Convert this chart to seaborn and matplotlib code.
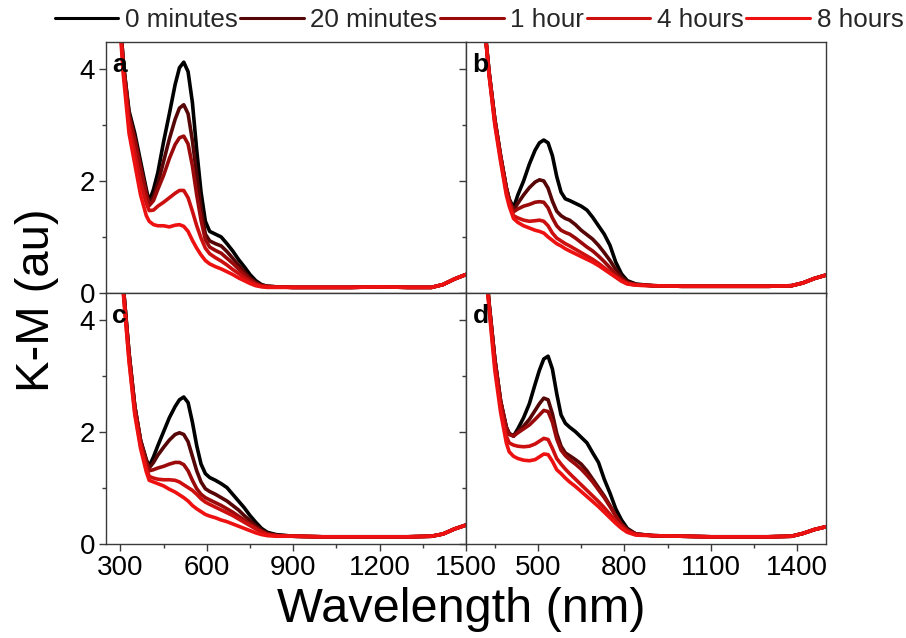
import matplotlib
matplotlib.use("Agg")
import matplotlib.pyplot as plt
import pandas as pd
import seaborn as sns
from matplotlib.lines import Line2D
from matplotlib.ticker import FixedLocator, MultipleLocator

sns.set_theme(style="white")
plt.rcParams['font.family'] = ['Liberation Sans', 'DejaVu Sans']

# ---------------- data ----------------
wavelength = [250, 290, 310, 330, 350, 370, 390, 400, 415, 430, 450, 470, 490, 505, 520,
              535, 550, 565, 580, 595, 610, 630, 650, 670, 690, 710, 730, 750, 770, 790,
              810, 840, 900, 1000, 1100, 1200, 1300, 1380, 1420, 1460, 1500]

series_labels = ["0 minutes", "20 minutes", "1 hour", "4 hours", "8 hours"]
series_colors = ["#000000", "#560606", "#9b0a0a", "#cc1010", "#ee1111"]
panel_letters = ["a", "b", "c", "d"]

# panel a
a_0min = [8, 5.6, 4.1, 3.25, 2.85, 2.35, 1.85, 1.63, 1.85, 2.15, 2.7, 3.2, 3.72, 4.02, 4.12,
          3.95, 3.4, 2.55, 1.8, 1.28, 1.1, 1.05, 1.0, 0.88, 0.75, 0.6, 0.47, 0.33, 0.22, 0.15,
          0.12, 0.11, 0.1, 0.1, 0.1, 0.11, 0.1, 0.1, 0.15, 0.25, 0.33]
a_20min = [8, 5.6, 4.1, 3.2, 2.78, 2.28, 1.8, 1.6, 1.72, 1.95, 2.35, 2.75, 3.1, 3.3, 3.36,
           3.2, 2.72, 2.1, 1.5, 1.05, 0.93, 0.88, 0.84, 0.74, 0.62, 0.5, 0.38, 0.27, 0.19, 0.14,
           0.12, 0.11, 0.1, 0.1, 0.1, 0.11, 0.1, 0.1, 0.15, 0.25, 0.33]
a_1h = [8, 5.6, 4.1, 3.15, 2.72, 2.22, 1.75, 1.56, 1.65, 1.85, 2.1, 2.4, 2.65, 2.77, 2.8,
        2.66, 2.27, 1.75, 1.3, 0.95, 0.82, 0.76, 0.71, 0.62, 0.53, 0.43, 0.33, 0.24, 0.17, 0.13,
        0.12, 0.11, 0.1, 0.1, 0.1, 0.11, 0.1, 0.1, 0.15, 0.25, 0.33]
a_4h = [8, 5.5, 4.0, 3.0, 2.5, 1.98, 1.6, 1.47, 1.48, 1.55, 1.62, 1.7, 1.78, 1.83, 1.83,
        1.7, 1.46, 1.2, 0.98, 0.8, 0.7, 0.63, 0.57, 0.5, 0.42, 0.35, 0.27, 0.2, 0.15, 0.12,
        0.11, 0.11, 0.1, 0.1, 0.1, 0.11, 0.1, 0.1, 0.15, 0.25, 0.33]
a_8h = [8, 5.4, 3.9, 2.85, 2.3, 1.75, 1.38, 1.28, 1.22, 1.2, 1.2, 1.18, 1.21, 1.22, 1.19,
        1.1, 0.94, 0.8, 0.68, 0.58, 0.52, 0.47, 0.43, 0.38, 0.33, 0.27, 0.22, 0.17, 0.13, 0.11,
        0.1, 0.1, 0.1, 0.1, 0.1, 0.11, 0.1, 0.1, 0.15, 0.25, 0.33]

# panel b
b_0min = [8, 6.5, 5.0, 3.95, 3.1, 2.45, 1.88, 1.68, 1.52, 1.75, 2.0, 2.3, 2.55, 2.68, 2.73,
          2.68, 2.45, 2.08, 1.8, 1.68, 1.65, 1.6, 1.55, 1.48, 1.35, 1.2, 1.05, 0.85, 0.55, 0.34,
          0.22, 0.16, 0.13, 0.12, 0.12, 0.12, 0.12, 0.13, 0.18, 0.26, 0.32]
b_20min = [8, 6.5, 5.0, 3.95, 3.1, 2.45, 1.88, 1.66, 1.48, 1.6, 1.75, 1.88, 1.98, 2.02, 2.0,
           1.87, 1.64, 1.46, 1.38, 1.33, 1.3, 1.22, 1.12, 1.04, 0.96, 0.85, 0.72, 0.58, 0.42, 0.29,
           0.2, 0.15, 0.13, 0.12, 0.12, 0.12, 0.12, 0.13, 0.18, 0.26, 0.32]
b_1h = [8, 6.5, 5.0, 3.95, 3.1, 2.45, 1.87, 1.65, 1.45, 1.5, 1.55, 1.58, 1.62, 1.63, 1.62,
        1.52, 1.34, 1.2, 1.12, 1.08, 1.05, 0.98, 0.9, 0.82, 0.75, 0.66, 0.56, 0.45, 0.34, 0.25,
        0.18, 0.15, 0.13, 0.12, 0.12, 0.12, 0.12, 0.13, 0.18, 0.26, 0.32]
b_4h = [8, 6.5, 5.0, 3.9, 3.05, 2.4, 1.8, 1.6, 1.38, 1.34, 1.3, 1.28, 1.29, 1.3, 1.28,
        1.2, 1.07, 0.98, 0.93, 0.88, 0.84, 0.78, 0.72, 0.66, 0.6, 0.53, 0.45, 0.37, 0.29, 0.22,
        0.17, 0.14, 0.13, 0.12, 0.12, 0.12, 0.12, 0.13, 0.18, 0.26, 0.32]
b_8h = [8, 6.5, 5.0, 3.9, 3.0, 2.35, 1.75, 1.55, 1.33, 1.26, 1.2, 1.16, 1.12, 1.1, 1.07,
        1.0, 0.94, 0.88, 0.84, 0.79, 0.75, 0.7, 0.65, 0.6, 0.55, 0.49, 0.42, 0.35, 0.28, 0.21,
        0.16, 0.14, 0.13, 0.12, 0.12, 0.12, 0.12, 0.13, 0.18, 0.26, 0.32]

# panel c
c_0min = [8, 6.0, 4.6, 3.4, 2.45, 1.85, 1.5, 1.38, 1.55, 1.75, 2.0, 2.25, 2.45, 2.57, 2.62,
          2.52, 2.17, 1.75, 1.42, 1.25, 1.18, 1.13, 1.07, 1.0, 0.88, 0.76, 0.64, 0.5, 0.38, 0.27,
          0.2, 0.16, 0.13, 0.12, 0.12, 0.12, 0.12, 0.13, 0.17, 0.26, 0.33]
c_20min = [8, 6.0, 4.6, 3.4, 2.45, 1.84, 1.48, 1.35, 1.45, 1.58, 1.72, 1.85, 1.95, 1.98, 1.95,
           1.82, 1.56, 1.3, 1.1, 0.98, 0.93, 0.88, 0.82, 0.76, 0.68, 0.6, 0.5, 0.41, 0.32, 0.24,
           0.18, 0.15, 0.13, 0.12, 0.12, 0.12, 0.12, 0.13, 0.17, 0.26, 0.33]
c_1h = [8, 6.0, 4.6, 3.4, 2.45, 1.83, 1.45, 1.3, 1.32, 1.35, 1.38, 1.42, 1.45, 1.45, 1.41,
        1.3, 1.13, 0.98, 0.88, 0.82, 0.78, 0.73, 0.68, 0.62, 0.56, 0.49, 0.42, 0.35, 0.28, 0.22,
        0.17, 0.14, 0.13, 0.12, 0.12, 0.12, 0.12, 0.13, 0.17, 0.26, 0.33]
c_4h = [8, 6.0, 4.5, 3.3, 2.35, 1.75, 1.35, 1.2, 1.17, 1.15, 1.14, 1.14, 1.13, 1.1, 1.05,
        1.0, 0.95, 0.88, 0.8, 0.74, 0.7, 0.65, 0.6, 0.55, 0.5, 0.44, 0.38, 0.32, 0.26, 0.2,
        0.16, 0.14, 0.13, 0.12, 0.12, 0.12, 0.12, 0.13, 0.17, 0.26, 0.33]
c_8h = [8, 6.0, 4.5, 3.25, 2.3, 1.7, 1.28, 1.13, 1.1, 1.07, 1.03, 0.97, 0.92, 0.87, 0.82,
        0.76, 0.68, 0.62, 0.57, 0.52, 0.49, 0.46, 0.42, 0.39, 0.35, 0.31, 0.27, 0.23, 0.19, 0.16,
        0.14, 0.13, 0.13, 0.12, 0.12, 0.12, 0.12, 0.13, 0.17, 0.26, 0.33]

# panel d
d_0min = [8, 7.0, 5.5, 4.3, 3.3, 2.55, 2.08, 1.97, 1.92, 2.05, 2.25, 2.5, 2.85, 3.1, 3.3,
          3.35, 3.12, 2.68, 2.3, 2.15, 2.08, 2.0, 1.9, 1.8, 1.62, 1.45, 1.15, 0.9, 0.62, 0.42,
          0.27, 0.17, 0.14, 0.13, 0.12, 0.12, 0.12, 0.13, 0.18, 0.25, 0.3]
d_20min = [8, 7.0, 5.5, 4.3, 3.3, 2.55, 2.08, 1.96, 1.93, 2.0, 2.1, 2.22, 2.38, 2.5, 2.6,
           2.57, 2.32, 1.97, 1.74, 1.62, 1.57, 1.5, 1.42, 1.3, 1.15, 1.0, 0.85, 0.68, 0.5, 0.35,
           0.25, 0.17, 0.14, 0.13, 0.12, 0.12, 0.12, 0.13, 0.18, 0.25, 0.3]
d_1h = [8, 7.0, 5.5, 4.3, 3.3, 2.55, 2.06, 1.95, 1.92, 1.98, 2.05, 2.12, 2.22, 2.3, 2.38,
        2.36, 2.17, 1.87, 1.67, 1.57, 1.5, 1.42, 1.33, 1.22, 1.1, 0.96, 0.82, 0.66, 0.49, 0.34,
        0.24, 0.17, 0.14, 0.13, 0.12, 0.12, 0.12, 0.13, 0.18, 0.25, 0.3]
d_4h = [8, 7.0, 5.5, 4.25, 3.2, 2.45, 1.92, 1.8, 1.76, 1.74, 1.73, 1.74, 1.78, 1.83, 1.88,
        1.86, 1.7, 1.52, 1.42, 1.33, 1.25, 1.15, 1.05, 0.95, 0.85, 0.75, 0.64, 0.52, 0.4, 0.3,
        0.22, 0.16, 0.14, 0.13, 0.12, 0.12, 0.12, 0.13, 0.18, 0.25, 0.3]
d_8h = [8, 7.0, 5.5, 4.2, 3.1, 2.35, 1.8, 1.64, 1.56, 1.52, 1.49, 1.48, 1.5, 1.55, 1.6,
        1.59, 1.47, 1.32, 1.25, 1.17, 1.1, 1.02, 0.93, 0.84, 0.75, 0.66, 0.56, 0.46, 0.36, 0.27,
        0.2, 0.15, 0.14, 0.13, 0.12, 0.12, 0.12, 0.13, 0.18, 0.25, 0.3]

panel_series = [
    [a_0min, a_20min, a_1h, a_4h, a_8h],
    [b_0min, b_20min, b_1h, b_4h, b_8h],
    [c_0min, c_20min, c_1h, c_4h, c_8h],
    [d_0min, d_20min, d_1h, d_4h, d_8h],
]

x_major_left = [300, 600, 900, 1200, 1500]
x_major_right = [500, 800, 1100, 1400]

# ---------------- figure ----------------
W, H = 906, 638
fig = plt.figure(figsize=(W / 100, H / 100), dpi=100)

def px_axes(x0, y0, x1, y1):
    return fig.add_axes([x0 / W, 1 - y1 / H, (x1 - x0) / W, (y1 - y0) / H])

boxes = [(106, 42, 466, 293), (466, 42, 826, 293),
         (106, 293, 466, 543.5), (466, 293, 826, 543.5)]

spine_col = "#3a3a3a"
for i, box in enumerate(boxes):
    ax = px_axes(*box)
    rows = []
    for lab, vals in zip(series_labels, panel_series[i]):
        rows.append(pd.DataFrame({"Wavelength": wavelength, "KM": vals, "series": lab}))
    df = pd.concat(rows, ignore_index=True)
    sns.lineplot(data=df, x="Wavelength", y="KM", hue="series", hue_order=series_labels,
                 palette=series_colors, linewidth=2.6, estimator=None, sort=False,
                 legend=False, ax=ax)
    for ln in ax.lines:
        ln.set_solid_joinstyle("round")
        ln.set_solid_capstyle("round")
    ax.set_xlim(250, 1500)
    ax.set_ylim(0, 4.48)
    ax.set_xlabel("")
    ax.set_ylabel("")
    for s in ax.spines.values():
        s.set_color(spine_col)
        s.set_linewidth(1.0)
    ax.yaxis.set_major_locator(FixedLocator([0, 2, 4]))
    ax.yaxis.set_minor_locator(FixedLocator([1, 3]))
    if i == 0:
        ax.xaxis.set_major_locator(FixedLocator(x_major_left))
        ax.xaxis.set_minor_locator(MultipleLocator(100))
    elif i == 1:
        ax.xaxis.set_major_locator(FixedLocator(x_major_right))
        ax.xaxis.set_minor_locator(MultipleLocator(100))
    elif i == 2:
        ax.xaxis.set_major_locator(FixedLocator(x_major_left))
        ax.xaxis.set_minor_locator(MultipleLocator(150))
    else:
        ax.xaxis.set_major_locator(FixedLocator(x_major_right))
        ax.xaxis.set_minor_locator(FixedLocator([350, 650, 950, 1250]))
    ax.tick_params(which="major", direction="out", length=5, width=1, color=spine_col,
                   labelsize=20, labelcolor="black", pad=3,
                   bottom=True, left=True, top=False, right=False)
    ax.tick_params(which="minor", direction="out", length=3, width=1, color=spine_col,
                   bottom=True, left=True, top=False, right=False)
    if i < 2:
        ax.set_xticklabels([])
    if i % 2 == 1:
        ax.set_yticklabels([])
    ax.text(0.018, 0.955, panel_letters[i], transform=ax.transAxes, fontsize=19,
            fontweight="bold", ha="left", va="top", color="black")

fig.text(37 / W, 1 - 300 / H, "K-M (au)", rotation=90, fontsize=34,
         ha="center", va="center", color="black")
fig.text(461 / W, 1 - 610 / H, "Wavelength (nm)", fontsize=35,
         ha="center", va="center", color="black")

handles = [Line2D([], [], color=c, lw=2.2) for c in series_colors]
fig.legend(handles, series_labels, loc="center", bbox_to_anchor=(479 / W, 1 - 20 / H),
           ncol=5, frameon=False, fontsize=18.7, handlelength=2.45, handletextpad=0.25,
           columnspacing=0.1, borderpad=0, borderaxespad=0)

fig.savefig("out.png", dpi=100)
